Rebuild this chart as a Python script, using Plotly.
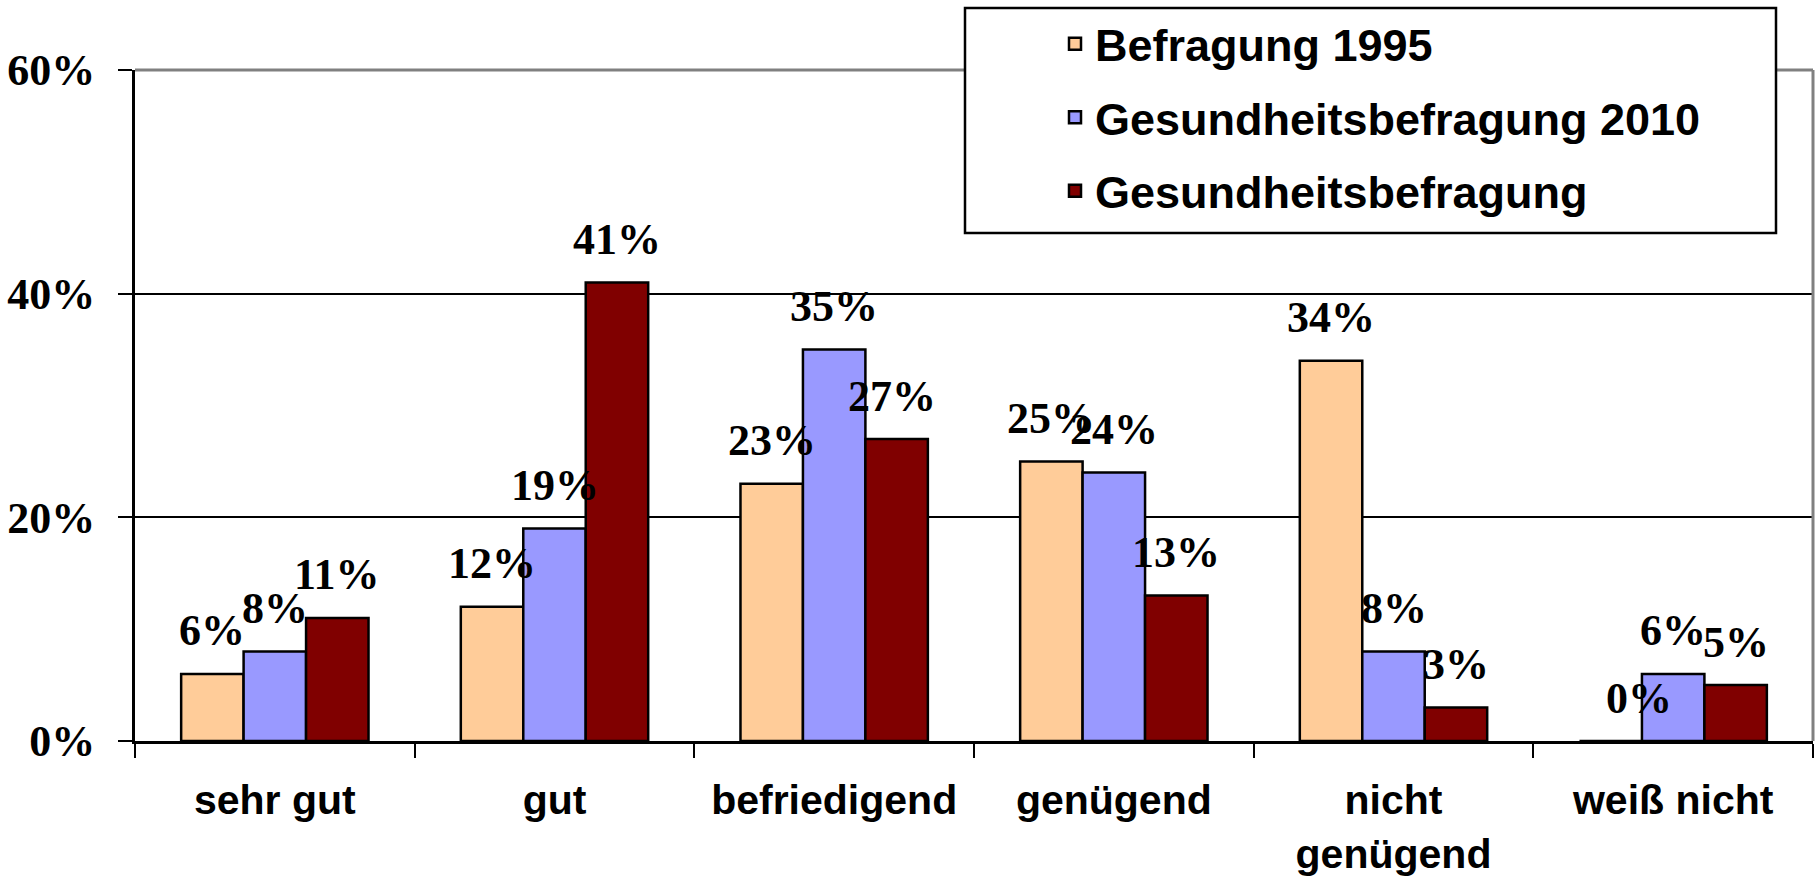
import plotly.graph_objects as go

# --- data -------------------------------------------------------------
categories = ["sehr gut", "gut", "befriedigend", "genügend", "nicht<br>genügend", "weiß nicht"]
series_names = ["Befragung 1995", "Gesundheitsbefragung 2010", "Gesundheitsbefragung"]
befragung_1995 = [6, 12, 23, 25, 34, 0]
gesundheit_2010 = [8, 19, 35, 24, 8, 6]
gesundheit = [11, 41, 27, 13, 3, 5]
y_tick_values = [0, 20, 40, 60]
y_tick_labels = ["0%", "20%", "40%", "60%"]

# --- style ------------------------------------------------------------
series_values = [befragung_1995, gesundheit_2010, gesundheit]
colors = ["#FFCC99", "#9999FF", "#800000"]
SERIF = "Liberation Serif, Times New Roman, serif"
SANS = "Liberation Sans, Arial, sans-serif"

W, H = 1820, 877
M_L, M_R, M_T, M_B = 135, 7, 70, 136
BARGAP = 0.33
plot_w = W - M_L - M_R
plot_h = H - M_T - M_B
bar_px = (1 - BARGAP) * plot_w / len(categories) / len(series_values)

# small horizontal nudges for individual value labels (series index, category index) -> px
label_nudge = {(0, 5): 28, (2, 2): -5}

fig = go.Figure()
for i, (name, vals, col) in enumerate(zip(series_names, series_values, colors)):
    fig.add_trace(go.Bar(
        name=name,
        x=categories,
        y=vals,
        marker=dict(color=col, line=dict(color="black", width=2.5)),
        legendgroup=f"g{i}",
        hoverinfo="skip",
    ))

# value labels above each bar
annotations = []
for i, vals in enumerate(series_values):
    for j, v in enumerate(vals):
        annotations.append(dict(
            x=categories[j], y=v, xref="x", yref="y",
            text=f"{v}%", showarrow=False,
            xanchor="center", yanchor="middle",
            xshift=(i - 1) * bar_px + label_nudge.get((i, j), 0),
            yshift=43,
            font=dict(family=SERIF, size=44, color="black", weight="bold"),
        ))

def px_to_paper_x(px):
    return (px - M_L) / plot_w

def px_to_paper_y(py):
    return (H - M_B - py) / plot_h

shapes = [
    # grey plot-area frame on the top and right
    dict(type="line", xref="paper", yref="paper", x0=0, x1=1, y0=1, y1=1,
         line=dict(color="#808080", width=3), layer="above"),
    dict(type="line", xref="paper", yref="paper", x0=1, x1=1, y0=0, y1=1,
         line=dict(color="#808080", width=3), layer="above"),
    # legend frame
    dict(type="rect", xref="paper", yref="paper",
         x0=px_to_paper_x(965), x1=px_to_paper_x(1776),
         y0=px_to_paper_y(233), y1=px_to_paper_y(8),
         fillcolor="white", line=dict(color="black", width=2.5), layer="above"),
]

fig.update_layout(
    width=W, height=H,
    margin=dict(l=M_L, r=M_R, t=M_T, b=M_B, autoexpand=False),
    paper_bgcolor="white", plot_bgcolor="white",
    barmode="group", bargap=BARGAP, bargroupgap=0,
    annotations=annotations,
    shapes=shapes,
    showlegend=True,
    legend=dict(
        x=px_to_paper_x(1055), y=px_to_paper_y(8),
        xanchor="left", yanchor="top",
        bgcolor="rgba(0,0,0,0)", borderwidth=0,
        font=dict(family=SANS, size=45, color="black", weight="bold"),
        tracegroupgap=12,
        traceorder="grouped",
    ),
    xaxis=dict(
        type="category", automargin=False,
        showline=True, linecolor="black", linewidth=3,
        ticks="outside", tickson="boundaries", ticklen=14, tickwidth=2, tickcolor="black",
        tickfont=dict(family=SANS, size=41, color="black", weight="bold"),
        ticklabelstandoff=21,
        showgrid=False, zeroline=False,
    ),
    yaxis=dict(
        range=[0, 60], automargin=False,
        tickvals=y_tick_values, ticktext=y_tick_labels,
        showline=True, linecolor="black", linewidth=3,
        ticks="outside", ticklen=14, tickwidth=2, tickcolor="black",
        tickfont=dict(family=SERIF, size=44, color="black", weight="bold"),
        ticklabelstandoff=14,
        showgrid=True, gridcolor="black", gridwidth=2,
        zeroline=False,
    ),
)

fig.write_html("out.html")
